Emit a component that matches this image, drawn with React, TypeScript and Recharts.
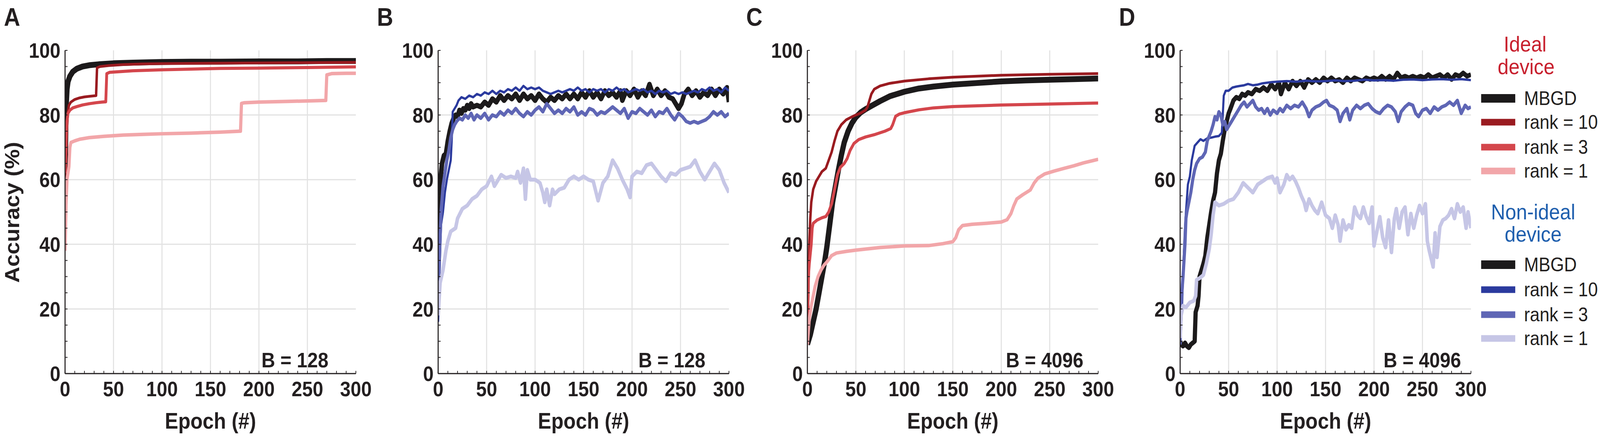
import React from 'react';
import { LineChart, Line, XAxis, YAxis, CartesianGrid } from 'recharts';

type Pt = [number, number];

// ---- panel A (ideal device, B = 128) ----
const aMbgd: Pt[] = [
  [0, 62], [1, 82], [2, 88], [3, 90.3], [5, 92], [8, 93.4], [12, 94.3], [18, 95], [25, 95.4],
  [35, 95.7], [50, 96], [70, 96.2], [100, 96.4], [130, 96.5], [160, 96.5], [200, 96.6],
  [240, 96.6], [270, 96.7], [300, 96.7],
];
const aR10: Pt[] = [
  [0, 55], [1, 66], [2, 76], [3, 81], [4, 83], [6, 84], [10, 84.8], [15, 85.3], [20, 85.6],
  [26, 85.8], [32, 86], [33, 94.6], [36, 95], [45, 95.3], [60, 95.6], [80, 95.8], [100, 95.9],
  [150, 96], [200, 96.1], [250, 96.2], [300, 96.3],
];
const aR3: Pt[] = [
  [0, 62], [1, 72], [2, 78], [3, 80.5], [5, 81.5], [8, 82.2], [12, 82.6], [18, 83.1], [25, 83.5],
  [32, 83.8], [38, 84], [42, 84.1], [43, 92.8], [46, 93.2], [55, 93.4], [70, 93.7], [100, 94],
  [130, 94.2], [160, 94.4], [200, 94.5], [250, 94.7], [300, 94.9],
];
const aR1: Pt[] = [
  [0, 38], [1, 52], [2, 60], [3, 62], [4, 64], [5, 70], [6, 71.5], [10, 72], [15, 72.5], [25, 73],
  [40, 73.4], [60, 73.8], [80, 74], [100, 74.2], [130, 74.4], [160, 74.7], [181, 75], [182, 83.6],
  [185, 83.8], [200, 84], [230, 84.2], [255, 84.4], [269, 84.5], [270, 92.4], [275, 92.8],
  [290, 92.9], [300, 92.9],
];

// ---- panel B (non-ideal device, B = 128) ----
const bMbgd: Pt[] = [
  [0, 42], [1, 52], [2, 58], [3, 62], [4, 65], [6, 67.5], [8, 68], [10, 72], [12, 75], [14, 77.5],
  [16, 79], [18, 80], [20, 79.5], [22, 81.5], [24, 80.5], [26, 82], [28, 81.5], [30, 83], [32, 82],
  [34, 83.5], [36, 82.5], [40, 83], [44, 82.5], [48, 84], [52, 83], [56, 85], [60, 84], [64, 86],
  [68, 84.5], [72, 86], [76, 85], [80, 86.5], [84, 84.5], [88, 86.5], [92, 85], [96, 86],
  [100, 84.5], [104, 86.5], [108, 85], [112, 84], [116, 85.5], [120, 84.5], [124, 86], [128, 85],
  [132, 86.5], [136, 85], [140, 86.5], [144, 85], [148, 87], [152, 85.5], [156, 87.5], [160, 85.5],
  [164, 87], [168, 85], [172, 87.5], [176, 86], [180, 87], [184, 85.5], [188, 87.5], [190, 84.5],
  [194, 87.5], [198, 86], [202, 88], [206, 85.5], [210, 87.5], [214, 86], [218, 89.5], [222, 86],
  [226, 88], [230, 86], [234, 87.5], [238, 85.5], [242, 85], [245, 83.5], [248, 82], [251, 83.5],
  [254, 86.5], [258, 88], [262, 86], [266, 87.5], [270, 85.5], [274, 87], [278, 86], [282, 88],
  [286, 86], [290, 88], [294, 86.5], [298, 88.5], [300, 84],
];
const bR10: Pt[] = [
  [0, 16], [1, 26], [2, 37], [3, 46], [5, 50], [7, 56], [9, 60], [11, 63], [13, 66], [14, 72],
  [15, 81], [17, 82], [19, 83], [21, 84.5], [24, 85.5], [28, 85], [32, 86], [36, 85.5], [40, 86.5],
  [44, 86], [48, 87], [52, 86.5], [56, 87.5], [60, 86.5], [64, 87.5], [68, 87], [72, 88],
  [76, 87.5], [80, 88.5], [84, 87.5], [88, 89], [92, 88], [96, 88.5], [100, 88], [104, 88.5],
  [108, 87.5], [112, 87], [116, 86.5], [120, 87], [124, 87.5], [128, 87], [132, 87.5], [136, 88],
  [140, 87.5], [144, 88.5], [148, 87.5], [152, 88], [156, 87], [160, 88], [164, 87.5], [168, 88],
  [172, 87], [176, 88], [180, 87.5], [184, 88.5], [188, 87.5], [192, 88], [196, 87], [200, 87.5],
  [204, 88], [208, 87.5], [212, 88], [216, 87], [220, 87.5], [224, 86.5], [228, 87.5], [232, 87],
  [236, 87.5], [240, 86.5], [244, 87], [248, 86.5], [252, 87], [256, 86.5], [260, 87], [264, 87.5],
  [268, 87], [272, 88], [276, 87.5], [280, 88.5], [284, 87.5], [288, 88], [292, 87], [296, 88.5],
  [300, 87.5],
];
const bR3: Pt[] = [
  [0, 25], [1, 32], [2, 42], [3, 50], [5, 58], [7, 62], [9, 66], [11, 69], [13, 73], [15, 75.5],
  [17, 77], [19, 78], [22, 79], [25, 78.5], [28, 80], [31, 79], [34, 80.5], [37, 78.5], [40, 80],
  [44, 79], [48, 80.5], [52, 78.5], [56, 80], [60, 79.5], [64, 81], [68, 80], [72, 81.5],
  [76, 80.5], [80, 82], [84, 80.5], [88, 79.5], [92, 81], [96, 80], [100, 81.5], [104, 82.5],
  [108, 81], [112, 83.5], [116, 82], [120, 80.5], [124, 81.5], [128, 80.5], [132, 82], [136, 81],
  [140, 82.5], [144, 80], [148, 81], [152, 80], [156, 82], [160, 81.5], [164, 80], [168, 81],
  [172, 80.5], [176, 81.5], [180, 82.5], [184, 81.5], [188, 80.5], [192, 82], [196, 79], [200, 81],
  [204, 80.5], [208, 82], [212, 81], [216, 80], [220, 81.5], [224, 79.5], [228, 81], [232, 80.5],
  [236, 82], [240, 80], [244, 78.5], [248, 80.5], [252, 79.5], [256, 78], [260, 77.5], [264, 78],
  [268, 77.5], [272, 78], [276, 78.5], [280, 79.5], [284, 81], [288, 80], [292, 81], [296, 79.5],
  [300, 80.5],
];
const bR1: Pt[] = [
  [0, 18], [2, 28], [5, 32], [8, 38], [10, 41], [13, 44], [18, 45], [20, 48], [25, 51], [30, 52],
  [35, 54], [40, 55], [45, 57], [50, 58], [55, 61], [58, 58], [62, 60], [65, 61.5], [70, 60.5],
  [75, 61], [80, 60.5], [82, 62.5], [85, 59], [88, 63.5], [90, 54], [92, 63], [95, 60], [100, 60],
  [105, 59], [108, 56], [110, 53], [112, 57], [115, 52], [118, 57], [120, 55.5], [125, 57],
  [130, 57.5], [135, 60], [140, 61], [145, 60], [150, 61], [155, 60], [160, 59.5], [165, 53.5],
  [170, 59], [175, 61], [180, 66], [185, 63.5], [190, 60], [195, 57], [198, 54.5], [200, 61],
  [205, 62.5], [210, 62], [215, 64.5], [220, 65], [225, 63], [230, 61], [235, 59.5], [240, 62],
  [245, 61.5], [250, 63], [255, 63.5], [260, 64], [265, 66], [270, 62.5], [275, 60], [280, 62.5],
  [285, 65], [290, 63], [295, 59], [300, 56],
];

// ---- panel C (ideal device, B = 4096) ----
const cMbgd: Pt[] = [
  [0, 9], [3, 12], [6, 16], [9, 20], [12, 25], [15, 30], [18, 35], [20, 39], [23, 46], [26, 53],
  [29, 58], [32, 63], [35, 67.5], [38, 71.5], [42, 75], [46, 77.5], [50, 79.3], [55, 80.8],
  [60, 81.8], [66, 82.8], [75, 84.3], [85, 85.8], [100, 87.2], [115, 88.2], [130, 88.8],
  [150, 89.4], [175, 89.9], [200, 90.4], [225, 90.7], [250, 90.9], [275, 91.1], [300, 91.3],
];
const cR10: Pt[] = [
  [0, 9], [1, 25], [2, 40], [3, 48], [4, 53], [6, 57], [9, 59.5], [12, 61], [15, 62.5], [19, 63.5],
  [22, 66], [25, 68.5], [28, 72], [31, 75], [35, 77], [40, 78.5], [45, 79.3], [50, 80], [55, 80.6],
  [60, 81.5], [62, 82.5], [64, 84.5], [66, 86.5], [69, 88], [75, 89], [85, 89.8], [100, 90.5],
  [125, 91.2], [150, 91.7], [200, 92.3], [250, 92.6], [300, 92.8],
];
const cR3: Pt[] = [
  [0, 9], [1, 30], [2, 34], [3, 37], [4, 40], [5, 45], [6, 46.5], [10, 47.5], [15, 48.2],
  [19, 48.6], [22, 50], [25, 52.5], [28, 57], [31, 61.5], [34, 63.8], [38, 65], [41, 66.5],
  [44, 69], [48, 71.2], [53, 72.4], [60, 73.2], [70, 74], [80, 75], [86, 75.8], [88, 77],
  [91, 79.6], [95, 80.3], [100, 80.7], [115, 81.6], [130, 82.2], [150, 82.6], [200, 83.1],
  [250, 83.4], [300, 83.7],
];
const cR1: Pt[] = [
  [0, 9], [2, 17], [4, 21], [6, 24], [8, 27], [11, 30], [14, 32], [17, 33.5], [20, 34.5],
  [25, 36.5], [30, 37.3], [40, 37.8], [50, 38.2], [75, 39], [100, 39.5], [125, 39.6], [140, 40.2],
  [150, 40.8], [153, 42], [156, 44.5], [160, 45.8], [170, 46.2], [185, 46.5], [200, 46.9],
  [206, 47.6], [210, 49.5], [213, 52], [216, 54], [222, 55.3], [230, 56.8], [234, 59], [238, 60.5],
  [245, 61.8], [255, 62.7], [265, 63.5], [275, 64.3], [285, 65.2], [300, 66.3],
];

// ---- panel D (non-ideal device, B = 4096) ----
const dMbgd: Pt[] = [
  [0, 10], [1, 9], [3, 8.5], [5, 9.5], [7, 8.5], [9, 8], [11, 9], [13, 9.5], [15, 10], [16, 19],
  [18, 21], [19, 24], [20, 30], [22, 32], [24, 34], [26, 36.5], [28, 42], [30, 46], [32, 50],
  [34, 53.5], [36, 56], [38, 62], [40, 66], [42, 68], [44, 72], [46, 75.5], [48, 78], [50, 80.5],
  [52, 82], [55, 84.5], [58, 85.5], [61, 85], [64, 86.5], [67, 86], [70, 87], [74, 86.5], [78, 88],
  [82, 87.5], [86, 88.5], [90, 87.5], [94, 89.5], [98, 88], [102, 90], [104, 86.5], [108, 90],
  [112, 88], [116, 90.5], [120, 89], [124, 90.5], [128, 88.5], [132, 91], [136, 90], [140, 91],
  [144, 90], [148, 91.5], [152, 90.5], [156, 91.5], [160, 90.5], [164, 91], [168, 90],
  [172, 91.5], [176, 90.5], [180, 91.5], [184, 91], [188, 90.5], [192, 91.5], [196, 91],
  [200, 91.5], [204, 91], [208, 92], [212, 91], [216, 92], [220, 91], [224, 93], [228, 91.5],
  [232, 92], [236, 91.5], [240, 92], [244, 91.5], [248, 92], [252, 91.5], [256, 92.5], [260, 91.5],
  [264, 92], [268, 92.5], [272, 91.5], [276, 92.5], [280, 91], [284, 92.5], [288, 92], [292, 93],
  [296, 92], [300, 92.5],
];
const dR10: Pt[] = [
  [0, 9], [1, 14], [2, 21], [3, 30], [4, 38], [5, 45], [6, 50], [8, 58.5], [10, 61], [12, 66],
  [13, 67.5], [15, 70.5], [18, 71.5], [21, 72.5], [24, 72], [28, 72.8], [32, 73], [36, 73.3],
  [40, 73.5], [43, 74.5], [44, 80], [45, 86], [47, 87.5], [50, 87.5], [54, 88.5], [58, 88.8],
  [62, 89], [66, 89.2], [70, 89.6], [75, 89.2], [80, 89.4], [85, 89.8], [90, 90], [95, 90.2],
  [100, 90.3], [110, 90.5], [120, 90.3], [130, 90.6], [140, 90.4], [150, 90.5], [160, 90.7],
  [170, 90.5], [180, 90.6], [190, 90.9], [200, 90.7], [210, 90.8], [220, 90.6], [230, 90.9],
  [240, 91], [250, 90.8], [260, 91], [270, 91.1], [280, 90.9], [290, 91.1], [300, 90.8],
];
const dR3: Pt[] = [
  [0, 9], [1, 22], [2, 26], [3, 30], [4, 35], [5, 40], [6, 48], [7, 50], [9, 53], [11, 56],
  [13, 60], [15, 63], [17, 65], [20, 66.5], [23, 67], [26, 68.5], [28, 72], [30, 73.5], [32, 75],
  [34, 77], [36, 79.5], [38, 78.5], [40, 81], [42, 80], [44, 77], [46, 78], [48, 75.5], [50, 76.5],
  [53, 78], [56, 79.5], [60, 81.5], [63, 83], [66, 84], [69, 82.5], [72, 83.5], [75, 84.5],
  [78, 82.5], [81, 81.5], [84, 82], [87, 80.5], [90, 82], [93, 80], [96, 81.5], [100, 80.5],
  [103, 82], [106, 81], [110, 83], [114, 82], [118, 83], [122, 82.5], [126, 84], [130, 82],
  [133, 79.5], [136, 81.5], [140, 82.5], [144, 83], [148, 84], [151, 84.5], [154, 83], [158, 82.5],
  [162, 81.5], [165, 78], [168, 80.5], [172, 82], [175, 78.5], [178, 81.5], [182, 83], [186, 82],
  [190, 83], [194, 83.5], [198, 82], [202, 81], [206, 80.5], [210, 82], [214, 83], [218, 82.5],
  [222, 81], [225, 78], [228, 81], [232, 82.5], [236, 83.5], [240, 83], [243, 80.5], [246, 79.5],
  [250, 81.5], [254, 82], [258, 80.5], [262, 82.5], [266, 81.5], [270, 82.5], [274, 83], [278, 84],
  [282, 83], [286, 84.5], [290, 80.5], [294, 83], [297, 82], [300, 82.5],
];
const dR1: Pt[] = [
  [0, 11], [1, 18], [3, 21], [6, 20.5], [10, 22], [14, 22.5], [16, 24], [17, 29], [20, 29.5],
  [24, 30.5], [27, 34], [30, 38.5], [32, 43], [34, 49], [36, 53], [40, 52], [45, 52.5], [50, 53.5],
  [55, 54], [60, 56], [65, 59], [70, 57.5], [75, 56], [80, 58.5], [85, 59.5], [90, 60.5], [95, 61],
  [98, 59], [100, 60.5], [103, 56], [107, 58.5], [110, 61.5], [113, 60], [116, 61], [119, 59.5],
  [122, 57.5], [125, 55], [128, 53], [130, 50.5], [133, 54], [136, 52], [139, 50.5], [142, 49.5],
  [146, 53], [150, 49], [154, 48], [157, 45], [160, 49], [163, 46], [165, 41], [168, 47.5],
  [171, 44.5], [174, 46], [177, 45], [180, 51.5], [183, 49], [186, 48], [189, 51.5], [192, 48.5],
  [195, 46.5], [198, 51.5], [200, 39.5], [203, 44], [206, 48.5], [209, 42], [212, 39], [215, 47.5],
  [218, 37.5], [221, 48], [223, 51], [226, 45], [229, 50], [232, 51.5], [235, 43], [238, 49.5],
  [241, 45], [244, 49], [247, 52], [250, 49.5], [253, 52.5], [255, 41], [257, 38], [259, 35.5],
  [261, 33], [263, 43.5], [265, 36], [268, 45.5], [271, 47.5], [274, 48], [277, 49], [280, 51],
  [283, 48], [286, 52.5], [289, 50], [292, 51.5], [295, 45], [297, 50], [300, 45],
];

const xTicks = [0, 10, 20, 30, 40, 50, 60, 70, 80, 90, 100, 110, 120, 130, 140, 150, 160, 170, 180,
  190, 200, 210, 220, 230, 240, 250, 260, 270, 280, 290, 300];
const yTicks = [0, 5, 10, 15, 20, 25, 30, 35, 40, 45, 50, 55, 60, 65, 70, 75, 80, 85, 90, 95, 100];
const xGrid = [50, 100, 150, 200, 250];
const yGrid = [20, 40, 60, 80];

const C = {
  ink: '#231f20',
  black: '#1c1a1b',
  red10: '#9a1b20',
  red3: '#d4464c',
  red1: '#f2a6a9',
  blue10: '#2b3a9e',
  blue3: '#5f66b5',
  blue1: '#c6c6e6',
  grid: '#e2e2e2',
  idealText: '#c8202e',
  nonIdealText: '#1f5fae',
};

const FONT = '"Liberation Sans", Arial, sans-serif';

const toRows = (pts: Pt[]) => pts.map(([x, y]) => ({ x, y }));

interface Series {
  pts: Pt[];
  color: string;
  width: number;
}

const panels: { letter: string; left: number; batch: string; batchRight: number; series: Series[] }[] = [
  {
    letter: 'A', left: 185, batch: 'B = 128', batchRight: 934,
    series: [
      { pts: aMbgd, color: C.black, width: 15 },
      { pts: aR10, color: C.red10, width: 7 },
      { pts: aR3, color: C.red3, width: 8 },
      { pts: aR1, color: C.red1, width: 9 },
    ],
  },
  {
    letter: 'B', left: 1246, batch: 'B = 128', batchRight: 2006,
    series: [
      { pts: bMbgd, color: C.black, width: 13 },
      { pts: bR10, color: C.blue10, width: 6 },
      { pts: bR3, color: C.blue3, width: 9 },
      { pts: bR1, color: C.blue1, width: 10 },
    ],
  },
  {
    letter: 'C', left: 2296, batch: 'B = 4096', batchRight: 3081,
    series: [
      { pts: cMbgd, color: C.black, width: 15 },
      { pts: cR10, color: C.red10, width: 7 },
      { pts: cR3, color: C.red3, width: 8 },
      { pts: cR1, color: C.red1, width: 9 },
    ],
  },
  {
    letter: 'D', left: 3356, batch: 'B = 4096', batchRight: 4155,
    series: [
      { pts: dMbgd, color: C.black, width: 12 },
      { pts: dR10, color: C.blue10, width: 6 },
      { pts: dR3, color: C.blue3, width: 9 },
      { pts: dR1, color: C.blue1, width: 10 },
    ],
  },
];

const legendIdeal = [
  { label: 'MBGD', color: C.black, y: 252, h: 22 },
  { label: 'rank = 10', color: C.red10, y: 313, h: 17 },
  { label: 'rank = 3', color: C.red3, y: 377, h: 17 },
  { label: 'rank = 1', color: C.red1, y: 438, h: 17 },
];
const legendNonIdeal = [
  { label: 'MBGD', color: C.black, y: 678, h: 22 },
  { label: 'rank = 10', color: C.blue10, y: 742, h: 17 },
  { label: 'rank = 3', color: C.blue3, y: 806, h: 17 },
  { label: 'rank = 1', color: C.blue1, y: 867, h: 17 },
];

const FIG_W = 4550;
const FIG_H = 1122;
const PLOT_W = 827;
const PLOT_H = 828;
const PLOT_TOP = 129;
const Y_AXIS_W = 140;
const X_AXIS_H = 170;
const M_TOP = 45;
const M_RIGHT = 60;

const tickStyle = { fill: C.ink, fontSize: 54, fontWeight: 700, fontFamily: FONT };
const axisLine = { stroke: C.ink, strokeWidth: 3 };
const tickLine = { stroke: C.ink, strokeWidth: 2 };

const Panel: React.FC<{ left: number; series: Series[] }> = ({ left, series }) => (
  <div style={{ position: 'absolute', left: left - Y_AXIS_W, top: PLOT_TOP - M_TOP }}>
    <LineChart
      width={PLOT_W + Y_AXIS_W + M_RIGHT}
      height={PLOT_H + M_TOP + X_AXIS_H}
      margin={{ top: M_TOP, right: M_RIGHT, bottom: 0, left: 0 }}
    >
      <CartesianGrid
        stroke={C.grid}
        strokeWidth={3}
        horizontalValues={yGrid}
        verticalValues={xGrid}
      />
      <XAxis
        dataKey="x"
        type="number"
        domain={[0, 300]}
        ticks={xTicks}
        interval={0}
        tickFormatter={(v: number) => (v % 50 === 0 ? String(v) : '')}
        tick={tickStyle}
        tickSize={-7}
        tickMargin={27}
        tickLine={tickLine}
        axisLine={axisLine}
        height={X_AXIS_H}
        allowDataOverflow
      />
      <XAxis
        xAxisId="top"
        orientation="top"
        dataKey="x"
        type="number"
        domain={[0, 300]}
        ticks={xTicks}
        interval={0}
        tickFormatter={() => ''}
        tickSize={-7}
        tickLine={tickLine}
        axisLine={axisLine}
        height={0}
        allowDataOverflow
      />
      <YAxis
        type="number"
        domain={[0, 100]}
        ticks={yTicks}
        interval={0}
        tickFormatter={(v: number) => (v % 20 === 0 ? String(v) : '')}
        tick={tickStyle}
        tickSize={-7}
        tickMargin={20}
        tickLine={tickLine}
        axisLine={axisLine}
        width={Y_AXIS_W}
        allowDataOverflow
      />
      <YAxis
        yAxisId="right"
        orientation="right"
        type="number"
        domain={[0, 100]}
        ticks={yTicks}
        interval={0}
        tickFormatter={() => ''}
        tickSize={-7}
        tickLine={tickLine}
        axisLine={axisLine}
        width={0}
        allowDataOverflow
      />
      {series.map((s, i) => (
        <Line
          key={i}
          data={toRows(s.pts)}
          dataKey="y"
          type="linear"
          dot={false}
          activeDot={false}
          stroke={s.color}
          strokeWidth={s.width}
          strokeLinejoin="round"
          isAnimationActive={false}
        />
      ))}
    </LineChart>
  </div>
);

const Annotations: React.FC = () => (
  <svg
    width={FIG_W}
    height={FIG_H}
    style={{ position: 'absolute', left: 0, top: 0, pointerEvents: 'none' }}
    fontFamily={FONT}
  >
    {panels.map((p) => (
      <g key={p.letter}>
        <text x={p.left - 174} y={66} fontSize={64} fontWeight={700} fill={C.ink}>
          {p.letter}
        </text>
        <text x={p.batchRight} y={941} fontSize={54} fontWeight={700} fill={C.ink} textAnchor="end">
          {p.batch}
        </text>
        <text x={p.left + PLOT_W / 2} y={1098} fontSize={57} fontWeight={700} fill={C.ink} textAnchor="middle">
          Epoch (#)
        </text>
      </g>
    ))}
    <text
      x={34}
      y={564}
      transform="rotate(-90 34 544)"
      fontSize={57}
      fontWeight={700}
      fill={C.ink}
      textAnchor="middle"
    >
      Accuracy (%)
    </text>

    <text x={4337} y={132} fontSize={56} fill={C.idealText} textAnchor="middle">Ideal</text>
    <text x={4340} y={190} fontSize={56} fill={C.idealText} textAnchor="middle">device</text>
    <text x={4360} y={562} fontSize={56} fill={C.nonIdealText} textAnchor="middle">Non-ideal</text>
    <text x={4360} y={619} fontSize={56} fill={C.nonIdealText} textAnchor="middle">device</text>

    {[...legendIdeal, ...legendNonIdeal].map((e, i) => (
      <g key={i}>
        <rect x={4212} y={e.y - e.h / 2} width={97} height={e.h} fill={e.color} />
        <text x={4334} y={e.y + 17} fontSize={50} fill={C.ink}>
          {e.label}
        </text>
      </g>
    ))}
  </svg>
);

// the figure is laid out on a 4550 x 1122 grid and fitted to the window it actually gets
const fitScale = () => {
  const w = document.documentElement.clientWidth || window.innerWidth || FIG_W;
  const h = document.documentElement.clientHeight || window.innerHeight || FIG_H;
  return { sx: w / FIG_W, sy: h / FIG_H };
};

const App: React.FC = () => {
  const { sx, sy } = fitScale();
  return (
    <div
      style={{
        position: 'absolute',
        left: 0,
        top: 0,
        width: FIG_W,
        height: FIG_H,
        background: '#fff',
        transform: `scale(${sx}, ${sy})`,
        transformOrigin: '0 0',
      }}
    >
      {panels.map((p) => (
        <Panel key={p.letter} left={p.left} series={p.series} />
      ))}
      <Annotations />
    </div>
  );
};

export default App;
